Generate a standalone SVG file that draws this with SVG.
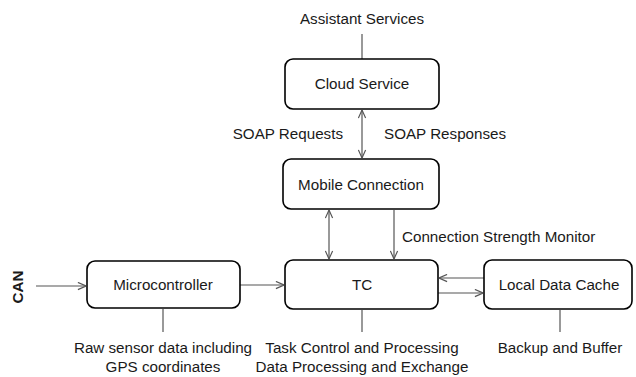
<svg xmlns="http://www.w3.org/2000/svg" width="636" height="377" viewBox="0 0 636 377">
<style>
.box{fill:#fff;stroke:#000;stroke-width:1.6}
.t{font-family:"Liberation Sans",Arial,sans-serif;font-size:15.2px;fill:#1a1a1a;text-anchor:middle}
.tl{font-family:"Liberation Sans",Arial,sans-serif;font-size:15.2px;fill:#1a1a1a;text-anchor:start}
.te{font-family:"Liberation Sans",Arial,sans-serif;font-size:15.2px;fill:#1a1a1a;text-anchor:end}
.ln{stroke:#555;stroke-width:1.2;fill:none}
</style>
<defs>
<marker id="ah" viewBox="0 0 10 10" refX="10" refY="5" markerWidth="9" markerHeight="9" markerUnits="userSpaceOnUse" orient="auto-start-reverse">
<path d="M1,1 L10,5 L1,9" fill="none" stroke="#555" stroke-width="1.3"/>
</marker>
</defs>
<rect width="636" height="377" fill="#fff"/>
<g id="connectors">
<line class="ln" x1="362" y1="34" x2="362" y2="59"/>
<line class="ln" x1="362" y1="110" x2="362" y2="158" marker-start="url(#ah)" marker-end="url(#ah)"/>
<line class="ln" x1="329" y1="210" x2="329" y2="259" marker-start="url(#ah)" marker-end="url(#ah)"/>
<line class="ln" x1="394" y1="210" x2="394" y2="259" marker-end="url(#ah)"/>
<line class="ln" x1="36" y1="286" x2="86" y2="286" marker-end="url(#ah)"/>
<line class="ln" x1="240" y1="285" x2="284" y2="285" marker-end="url(#ah)"/>
<line class="ln" x1="484" y1="278" x2="439" y2="278" marker-end="url(#ah)"/>
<line class="ln" x1="438" y1="293" x2="483" y2="293" marker-end="url(#ah)"/>
<line class="ln" x1="163" y1="309" x2="163" y2="332"/>
<line class="ln" x1="362" y1="310" x2="362" y2="332"/>
<line class="ln" x1="560" y1="310" x2="560" y2="332"/>
</g>
<g id="assistant"><text class="t" x="362" y="24">Assistant Services</text></g>
<g id="cloud"><rect class="box" x="285" y="59" width="154" height="50" rx="8"/><text class="t" x="362" y="89">Cloud Service</text></g>
<g id="soap"><text class="te" x="343" y="139">SOAP Requests</text><text class="tl" x="384" y="139">SOAP Responses</text></g>
<g id="mobile"><rect class="box" x="283" y="159" width="156" height="50" rx="8"/><text class="t" x="361" y="190">Mobile Connection</text></g>
<g id="csm"><text class="tl" x="402" y="242">Connection Strength Monitor</text></g>
<g id="can"><text class="t" transform="translate(23,287) rotate(-90)" font-weight="bold" font-size="14">CAN</text></g>
<g id="micro"><rect class="box" x="87" y="261" width="153" height="47" rx="8"/><text class="t" x="163" y="290">Microcontroller</text></g>
<g id="tc"><rect class="box" x="285" y="260" width="153" height="49" rx="8"/><text class="t" x="362" y="290">TC</text></g>
<g id="ldc"><rect class="box" x="484" y="260" width="148" height="49" rx="8"/><text class="t" x="559" y="290">Local Data Cache</text></g>
<g id="labels">
<text class="t" x="163" y="353">Raw sensor data including</text>
<text class="t" x="163" y="372">GPS coordinates</text>
<text class="t" x="362" y="353">Task Control and Processing</text>
<text class="t" x="362" y="372">Data Processing and Exchange</text>
<text class="t" x="560" y="353">Backup and Buffer</text>
</g>
</svg>
